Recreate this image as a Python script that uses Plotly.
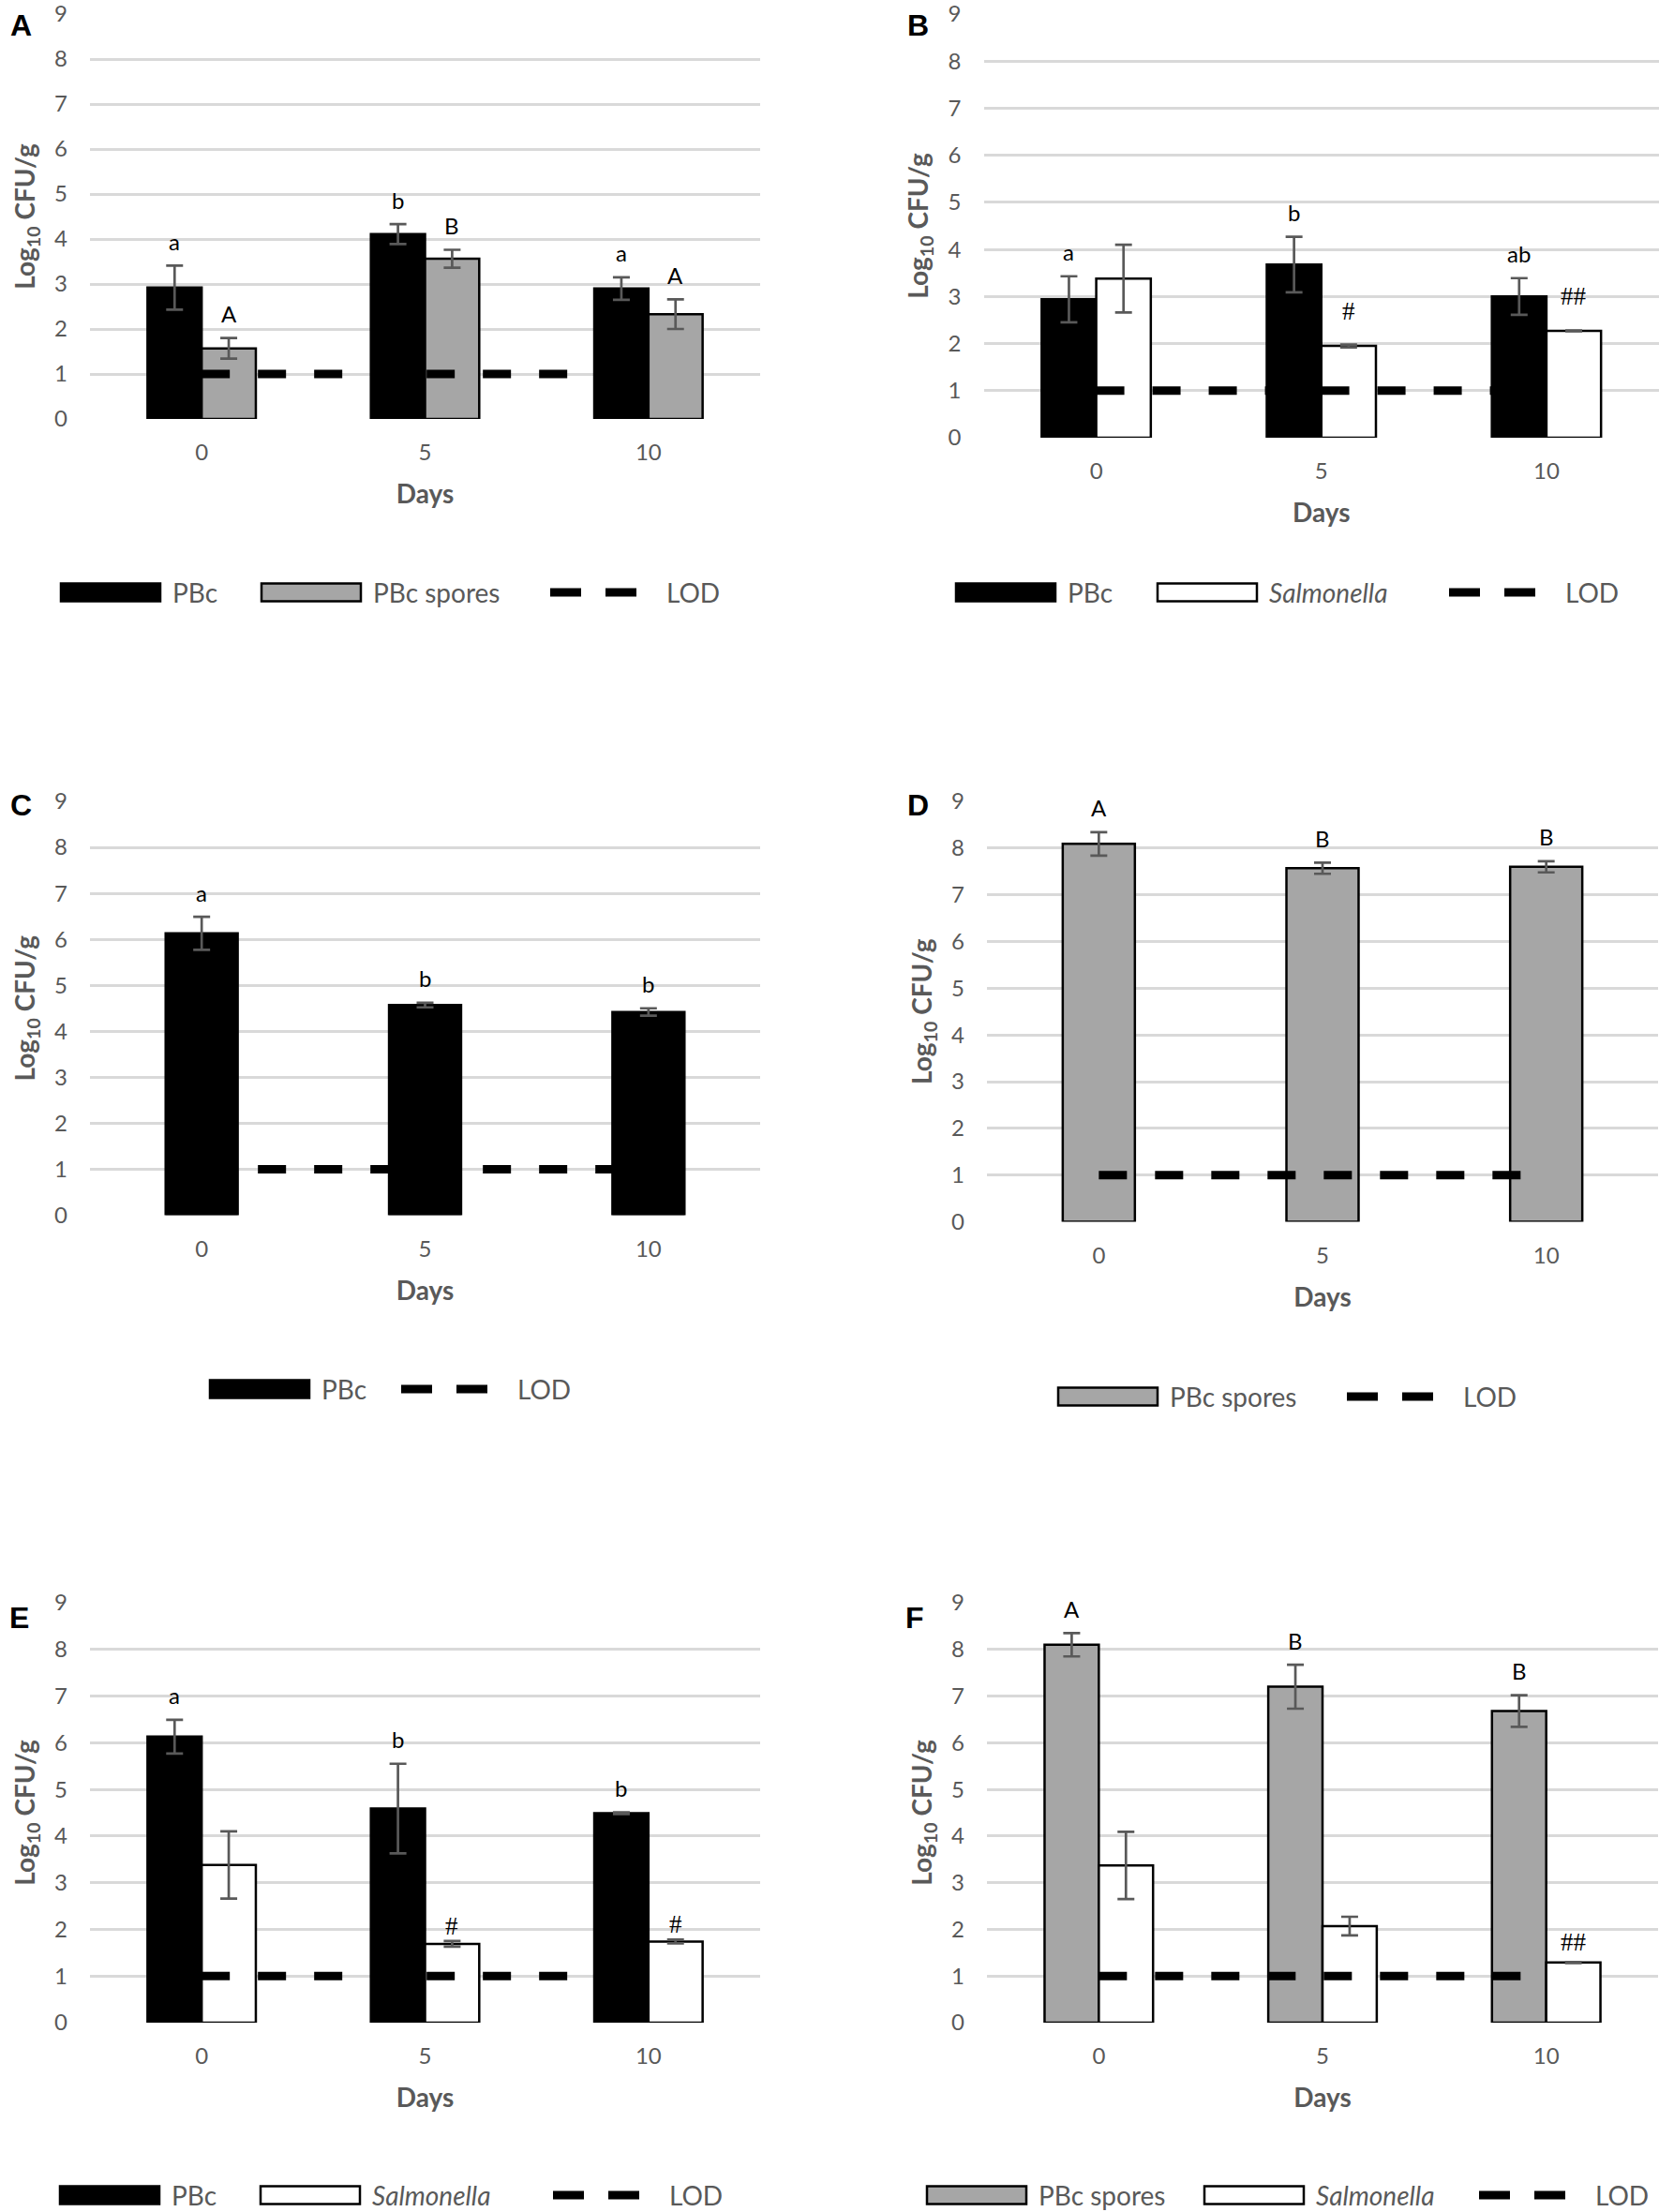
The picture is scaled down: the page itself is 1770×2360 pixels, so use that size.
import plotly.graph_objects as go

W, H = 1770, 2360
days = ["0", "5", "10"]
lod = [1, 1, 1]

# Panel A
a_pbc = [2.92, 4.11, 2.90]
a_pbc_err = [0.49, 0.22, 0.25]
a_spores = [1.57, 3.56, 2.33]
a_spores_err = [0.23, 0.20, 0.33]
a_pbc_lbl = ["a", "b", "a"]
a_spores_lbl = ["A", "B", "A"]

# Panel B
b_pbc = [2.94, 3.68, 3.00]
b_pbc_err = [0.49, 0.59, 0.39]
b_sal = [3.38, 1.95, 2.27]
b_sal_err = [0.72, 0.03, 0.01]
b_pbc_lbl = ["a", "b", "ab"]
b_sal_lbl = ["", "#", "##"]

# Panel C
c_pbc = [6.13, 4.57, 4.42]
c_pbc_err = [0.36, 0.05, 0.08]
c_pbc_lbl = ["a", "b", "b"]

# Panel D
d_spores = [8.09, 7.57, 7.60]
d_spores_err = [0.25, 0.12, 0.12]
d_spores_lbl = ["A", "B", "B"]

# Panel E
e_pbc = [6.13, 4.59, 4.49]
e_pbc_err = [0.36, 0.96, 0.02]
e_sal = [3.38, 1.69, 1.74]
e_sal_err = [0.72, 0.06, 0.04]
e_pbc_lbl = ["a", "b", "b"]
e_sal_lbl = ["", "#", "#"]

# Panel F
f_spores = [8.10, 7.20, 6.68]
f_spores_err = [0.25, 0.47, 0.34]
f_sal = [3.37, 2.07, 1.29]
f_sal_err = [0.72, 0.20, 0.01]
f_spores_lbl = ["A", "B", "B"]
f_sal_lbl = ["", "", "##"]

FONT = "Lato"
TXT = "#595959"
FILL = {"pbc": "#000000", "spores": "#A6A6A6", "sal": "#FFFFFF"}
LEGTXT = {"pbc": "PBc", "spores": "PBc spores", "sal": "<i>Salmonella</i>", "lod": "LOD"}
BARGAP = 0.515

panel_series = {
    1: [("pbc", a_pbc, a_pbc_err, a_pbc_lbl), ("spores", a_spores, a_spores_err, a_spores_lbl)],
    2: [("pbc", b_pbc, b_pbc_err, b_pbc_lbl), ("sal", b_sal, b_sal_err, b_sal_lbl)],
    3: [("pbc", c_pbc, c_pbc_err, c_pbc_lbl)],
    4: [("spores", d_spores, d_spores_err, d_spores_lbl)],
    5: [("pbc", e_pbc, e_pbc_err, e_pbc_lbl), ("sal", e_sal, e_sal_err, e_sal_lbl)],
    6: [("spores", f_spores, f_spores_err, f_spores_lbl), ("sal", f_sal, f_sal_err, f_sal_lbl)],
}

# positions below are in page pixels of the 1770x2360 screenshot
panel_layout = {
    1: dict(letter="A", xd=(96, 811), yd=(15, 447), lp=(22, 27), ly=632, hs=36,
            leg=[("pbc", 65), ("spores", 279), ("lod", 587)]),
    2: dict(letter="B", xd=(1049.5, 1770), yd=(15, 467), lp=(979, 27), ly=632, hs=36,
            leg=[("pbc", 1020), ("sal", 1235), ("lod", 1546)]),
    3: dict(letter="C", xd=(96, 811), yd=(855, 1296.5), lp=(22, 859), ly=1482, hs=26,
            leg=[("pbc", 224), ("lod", 428)]),
    4: dict(letter="D", xd=(1053, 1769), yd=(855, 1303.5), lp=(979, 859), ly=1490, hs=26,
            leg=[("spores", 1129), ("lod", 1437)]),
    5: dict(letter="E", xd=(96, 811), yd=(1710, 2158), lp=(20, 1726), ly=2342, hs=16,
            leg=[("pbc", 64), ("sal", 278), ("lod", 590)]),
    6: dict(letter="F", xd=(1053, 1769), yd=(1710, 2158), lp=(976, 1726), ly=2342, hs=21,
            leg=[("spores", 989), ("sal", 1285), ("lod", 1578)]),
}


def px(x):
    return min(1.0, x / W)


def py(y):
    return min(1.0, 1 - y / H)


fig = go.Figure()
annotations = []
shapes = []

for i in range(1, 7):
    sfx = "" if i == 1 else str(i)
    xa, ya = "x" + sfx, "y" + sfx
    cfg = panel_layout[i]
    series = panel_series[i]
    n = len(series)
    single_w = (1 - BARGAP) / 2 * 1.33
    for k, (kind, vals, errs, labels) in enumerate(series):
        bar = dict(
            x=days, y=vals, name=LEGTXT[kind], xaxis=xa, yaxis=ya, showlegend=False,
            marker=dict(color=FILL[kind], line=dict(color="#000000", width=2.5)),
            error_y=dict(type="data", array=errs, visible=True, color="#595959",
                         thickness=2.7, width=9),
        )
        if n == 1:
            bar["width"] = single_w
            offset = 0.0
        else:
            offset = (k - 0.5) * (1 - BARGAP) / 2
        fig.add_trace(go.Bar(**bar))
        for j, lab in enumerate(labels):
            if not lab:
                continue
            is_hash = lab.startswith("#")
            annotations.append(dict(
                x=j + offset, y=vals[j] + errs[j], xref=xa, yref=ya,
                yshift=cfg["hs"] if is_hash else 26, yanchor="middle", showarrow=False,
                text=lab,
                font=dict(family="Liberation Serif" if is_hash else FONT,
                          size=27 if is_hash else 24, color="#000000"),
            ))
    fig.add_trace(go.Scatter(
        x=days, y=lod, name="LOD", mode="lines", xaxis=xa, yaxis=ya, showlegend=False,
        line=dict(color="#000000", width=9, dash="30px,30px"),
    ))

    fig.layout["xaxis" + sfx] = dict(
        domain=[px(cfg["xd"][0]), px(cfg["xd"][1])], anchor=ya, type="category",
        categoryorder="array", categoryarray=days, range=[-0.5, 2.5], automargin=False,
        showgrid=False, zeroline=False, showline=False, ticks="",
        ticklabelstandoff=19, ticklabeloverflow="allow",
        tickfont=dict(family=FONT, size=24, color=TXT),
        title=dict(text="<b>Days</b>", font=dict(family=FONT, size=28, color=TXT), standoff=22),
    )
    fig.layout["yaxis" + sfx] = dict(
        domain=[py(cfg["yd"][1]), py(cfg["yd"][0])], anchor=xa, range=[0, 9], dtick=1,
        automargin=False, ticklabeloverflow="allow",
        showgrid=True, gridcolor="#D9D9D9", gridwidth=3, zeroline=False, showline=False,
        ticks="", ticklabelstandoff=23,
        tickfont=dict(family=FONT, size=24, color=TXT),
        title=dict(text="<b>Log<sub>10</sub> CFU/g</b>", font=dict(family=FONT, size=28, color=TXT),
                   standoff=12),
    )

    # panel letter
    annotations.append(dict(
        x=px(cfg["lp"][0]), y=py(cfg["lp"][1]), xref="paper", yref="paper",
        text="<b>%s</b>" % cfg["letter"], showarrow=False, xanchor="center", yanchor="middle",
        font=dict(family="Liberation Sans", size=32, color="#000000"),
    ))

    # legend drawn as shapes
    ly = cfg["ly"]
    for kind, x0 in cfg["leg"]:
        if kind == "lod":
            for d0 in (0, 59):
                shapes.append(dict(type="line", xref="paper", yref="paper",
                                   x0=px(x0 + d0), x1=px(x0 + d0 + 33), y0=py(ly), y1=py(ly),
                                   line=dict(color="#000000", width=9)))
            tx = x0 + 122
        else:
            shapes.append(dict(type="rect", xref="paper", yref="paper",
                               x0=px(x0), x1=px(x0 + 106), y0=py(ly + 9.5), y1=py(ly - 9.5),
                               fillcolor=FILL[kind], line=dict(color="#000000", width=2.5)))
            tx = x0 + 117
        annotations.append(dict(
            x=px(tx), y=py(ly), xref="paper", yref="paper", text=LEGTXT[kind],
            showarrow=False, xanchor="left", yanchor="middle",
            font=dict(family=FONT, size=28, color=TXT),
        ))

fig.update_layout(
    width=W, height=H, margin=dict(l=0, r=0, t=0, b=0, autoexpand=False),
    paper_bgcolor="white", plot_bgcolor="white",
    barmode="group", bargap=BARGAP, bargroupgap=0,
    annotations=annotations, shapes=shapes, showlegend=False,
)

# remove the default 8px body margin so the figure fills the page exactly
fig.write_html("out.html", config={"displayModeBar": False},
               post_script="document.body.style.margin='0';document.body.style.overflow='hidden';")
